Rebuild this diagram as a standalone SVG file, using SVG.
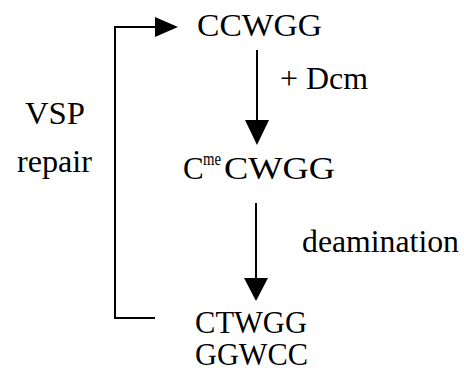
<svg xmlns="http://www.w3.org/2000/svg" width="464" height="375" viewBox="0 0 464 375">
<style>
.t{font-family:"Liberation Serif","Times New Roman",serif;font-size:31px;fill:#000}
.sup{font-size:19px}
.ln{stroke:#000;stroke-width:2;fill:none}
.ah{fill:#000;stroke:none}
</style>
<rect width="464" height="375" fill="#fff"/>
<g id="connectors">
<polyline class="ln" points="155,318 115,318 115,27 157,27"/>
<polygon class="ah" points="155,17 178,27 155,37"/>
<line class="ln" x1="257" y1="50" x2="257" y2="122"/>
<polygon class="ah" points="245,120 269,120 257,145"/>
<line class="ln" x1="256" y1="203" x2="256" y2="280"/>
<polygon class="ah" points="244,278 268,278 256,301"/>
</g>
<g id="node-ccwgg"><text class="t" x="197" y="36" textLength="125" lengthAdjust="spacingAndGlyphs">CCWGG</text></g>
<g id="label-dcm"><text class="t" x="280" y="89" textLength="88" lengthAdjust="spacingAndGlyphs">+ Dcm</text></g>
<g id="label-vsp">
<text class="t" x="25" y="124" textLength="60" lengthAdjust="spacingAndGlyphs">VSP</text>
<text class="t" x="17" y="172" textLength="75" lengthAdjust="spacingAndGlyphs">repair</text>
</g>
<g id="node-cmecwgg">
<text class="t" x="183" y="179">C</text>
<text class="t sup" x="203" y="165" textLength="18" lengthAdjust="spacingAndGlyphs">me</text>
<text class="t" x="224" y="179" textLength="111" lengthAdjust="spacingAndGlyphs">CWGG</text>
</g>
<g id="label-deamination"><text class="t" x="302" y="252" textLength="157" lengthAdjust="spacingAndGlyphs">deamination</text></g>
<g id="node-ctwgg">
<text class="t" x="195" y="333" textLength="112" lengthAdjust="spacingAndGlyphs">CTWGG</text>
<text class="t" x="195" y="365" textLength="113" lengthAdjust="spacingAndGlyphs">GGWCC</text>
</g>
</svg>
